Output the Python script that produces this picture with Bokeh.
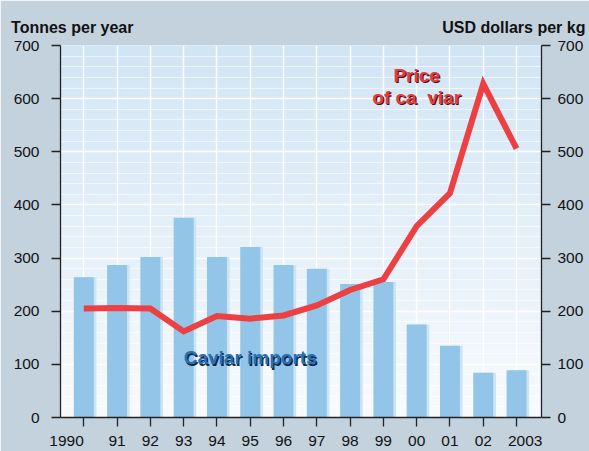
import numpy as np
from bokeh.plotting import figure
from bokeh.models import (Range1d, LinearAxis, FixedTicker, Label, ColumnDataSource,
                          SingleIntervalTicker)
from bokeh.transform import dodge
from bokeh.embed import file_html
from bokeh.resources import INLINE

years = [1990, 1991, 1992, 1993, 1994, 1995, 1996, 1997, 1998, 1999, 2000, 2001, 2002, 2003]
year_labels = ["1990", "91", "92", "93", "94", "95", "96", "97", "98", "99", "00", "01", "02", "2003"]
imports_tonnes = [264, 287, 302, 376, 302, 321, 287, 280, 251, 255, 175, 135, 84, 89]
price_usd_kg = [205, 206, 205, 162, 191, 186, 192, 211, 240, 260, 360, 422, 628, 506]
left_title = "Tonnes per year"
right_title = "USD dollars per kg"

FONT = "Liberation Sans"
X0, X1 = 1989.3, 2003.75

p = figure(width=589, height=451, output_backend="svg", toolbar_location=None,
           x_range=Range1d(X0, X1), y_range=Range1d(0, 700),
           min_border_left=60, min_border_right=48, min_border_top=45, min_border_bottom=33)
p.border_fill_color = "#c4d2de"
p.background_fill_color = "#e6f1fa"
p.outline_line_color = None

# plot-area gradient
n = 200
top = np.array([210, 229, 245]); bot = np.array([248, 251, 254])
img = np.zeros((n, 1), dtype=np.uint32)
view = img.view(dtype=np.uint8).reshape((n, 1, 4))
for i in range(n):
    t = i / (n - 1)
    c = bot + (top - bot) * t
    view[i, 0, 0] = int(c[0]); view[i, 0, 1] = int(c[1]); view[i, 0, 2] = int(c[2]); view[i, 0, 3] = 255
p.image_rgba(image=[img], x=X0, y=0, dw=X1 - X0, dh=700, level="image")

src = ColumnDataSource(dict(year=years, imports=imports_tonnes, price=price_usd_kg))
p.extra_y_ranges = {"price": Range1d(0, 700)}

# bars with light shadow
p.vbar(x=dodge("year", 0.08, range=p.x_range), top="imports", width=0.6, source=src,
       fill_color="#cde4f3", line_color=None)
p.vbar(x="year", top="imports", width=0.6, source=src, fill_color="#93c5e8", line_color=None)

# price line
p.line(x="year", y="price", source=src, y_range_name="price", line_color="#ec4043",
       line_width=6, line_cap="butt", line_join="miter")

# grids
p.xgrid.ticker = FixedTicker(ticks=years)
p.xgrid.grid_line_color = "white"
p.xgrid.grid_line_width = 1.4
p.ygrid.ticker = SingleIntervalTicker(interval=100, num_minor_ticks=5)
p.ygrid.grid_line_color = "white"
p.ygrid.grid_line_width = 1.5
p.ygrid.minor_grid_line_color = "white"
p.ygrid.minor_grid_line_alpha = 0.6

def style_axis(ax, standoff):
    ax.axis_line_color = "#222222"
    ax.axis_line_width = 1.3
    ax.major_tick_line_color = "#222222"
    ax.major_tick_line_width = 1.3
    ax.major_tick_in = 0
    ax.major_tick_out = 9
    ax.minor_tick_line_color = None
    ax.major_label_text_font = FONT
    ax.major_label_text_font_size = "15.5px"
    ax.major_label_text_color = "#111111"
    ax.major_label_standoff = standoff

p.yaxis.ticker = SingleIntervalTicker(interval=100, num_minor_ticks=0)
style_axis(p.yaxis[0], 12)
p.xaxis.ticker = FixedTicker(ticks=years)
NB = "\u00a0"
overrides = {y: l for y, l in zip(years, year_labels)}
overrides[years[0]] = year_labels[0] + NB * 8
overrides[years[-1]] = NB * 4 + year_labels[-1]
p.xaxis.major_label_overrides = overrides
style_axis(p.xaxis[0], 5)

right = LinearAxis(y_range_name="price", ticker=SingleIntervalTicker(interval=100, num_minor_ticks=0))
style_axis(right, 7)
p.add_layout(right, "right")

# axis titles: a bare axis above the frame whose two tick labels are the titles
title_pos = [1989.654, 2002.92]
top_axis = LinearAxis(ticker=FixedTicker(ticks=title_pos),
                      major_label_overrides={title_pos[0]: left_title, title_pos[1]: right_title})
top_axis.axis_line_color = None
top_axis.major_tick_line_color = None
top_axis.minor_tick_line_color = None
top_axis.major_tick_in = 0
top_axis.major_tick_out = 0
top_axis.major_label_standoff = 10
top_axis.major_label_text_font = FONT
top_axis.major_label_text_font_size = "16px"
top_axis.major_label_text_font_style = "bold"
top_axis.major_label_text_color = "#111111"
p.add_layout(top_axis, "above")

# in-chart labels with shadow
def shadow_label(x, y, text, color, shadow, **kw):
    for dx, dy, c in [(1.2, -1.2, shadow), (0, 0, color)]:
        p.add_layout(Label(x=x, y=y, x_offset=dx, y_offset=dy, text=text, text_font=FONT,
                           text_font_size="19px", text_font_style="bold", text_color=c,
                           text_align="center", text_baseline="middle", **kw))

shadow_label(1995.0, 112, "Caviar imports", "#2a6fb2", "#0d2a4a")
shadow_label(2000.0, 644, "Price", "#e53c3e", "#4a1010", y_range_name="price")
shadow_label(2000.0, 603, "of ca" + NB + " viar", "#e53c3e", "#4a1010", y_range_name="price")

open("out.html", "w").write(file_html(p, INLINE))
